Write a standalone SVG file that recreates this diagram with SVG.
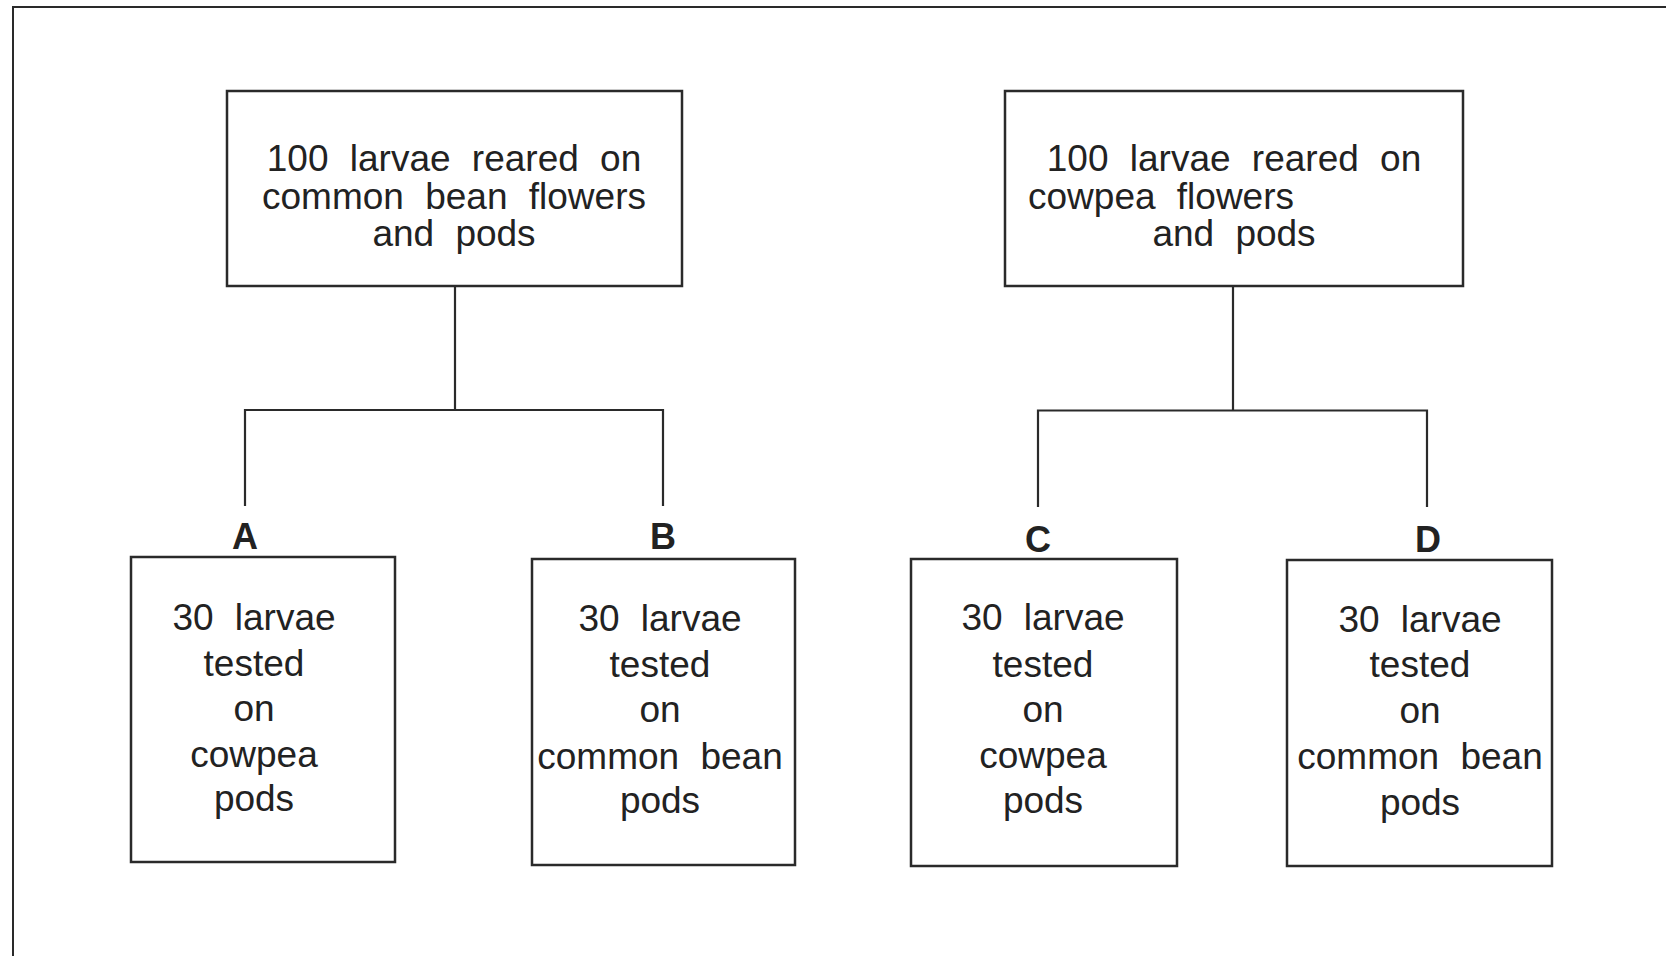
<svg xmlns="http://www.w3.org/2000/svg" width="1666" height="956" viewBox="0 0 1666 956">
<style>
.box{fill:#fff;stroke:#2a2a2a;stroke-width:2.5}
.frame{fill:none;stroke:#2a2a2a;stroke-width:2}
.con{fill:none;stroke:#2a2a2a;stroke-width:2.2}
.t{font-family:"Liberation Sans",Arial,Helvetica,sans-serif;font-size:37px;fill:#222;text-anchor:middle;word-spacing:11px}
.lbl{font-family:"Liberation Sans",Arial,Helvetica,sans-serif;font-size:36px;font-weight:bold;fill:#222;text-anchor:middle}
</style>
<rect width="1666" height="956" fill="#fff"/>
<path class="frame" d="M13,956 V7 H1666"/>
<g id="connectors">
<path class="con" d="M455,286 V410 M245,506 V410 H663 V506"/>
<path class="con" d="M1233,286 V410.5 M1038,507 V410.5 H1427 V507"/>
</g>
<g id="top-left">
<rect class="box" x="227" y="91" width="455" height="195"/>
<text class="t" x="454" y="171">100 larvae reared on</text>
<text class="t" x="454" y="208.5">common bean flowers</text>
<text class="t" x="454" y="246">and pods</text>
</g>
<g id="top-right">
<rect class="box" x="1005" y="91" width="458" height="195"/>
<text class="t" x="1234" y="171">100 larvae reared on</text>
<text class="t" x="1028" y="208.5" style="text-anchor:start">cowpea flowers</text>
<text class="t" x="1234" y="246">and pods</text>
</g>
<g id="A">
<text class="lbl" x="245" y="549">A</text>
<rect class="box" x="131" y="557" width="264" height="305"/>
<text class="t" x="254" y="630">30 larvae</text>
<text class="t" x="254" y="676">tested</text>
<text class="t" x="254" y="721">on</text>
<text class="t" x="254" y="767">cowpea</text>
<text class="t" x="254" y="811">pods</text>
</g>
<g id="B">
<text class="lbl" x="663" y="549">B</text>
<rect class="box" x="532" y="559" width="263" height="306"/>
<text class="t" x="660" y="631">30 larvae</text>
<text class="t" x="660" y="677">tested</text>
<text class="t" x="660" y="722">on</text>
<text class="t" x="660" y="769">common bean</text>
<text class="t" x="660" y="813">pods</text>
</g>
<g id="C">
<text class="lbl" x="1038" y="551.5">C</text>
<rect class="box" x="911" y="559" width="266" height="307"/>
<text class="t" x="1043" y="630">30 larvae</text>
<text class="t" x="1043" y="677">tested</text>
<text class="t" x="1043" y="722">on</text>
<text class="t" x="1043" y="768">cowpea</text>
<text class="t" x="1043" y="813">pods</text>
</g>
<g id="D">
<text class="lbl" x="1428" y="551.5">D</text>
<rect class="box" x="1287" y="560" width="265" height="306"/>
<text class="t" x="1420" y="632">30 larvae</text>
<text class="t" x="1420" y="677">tested</text>
<text class="t" x="1420" y="723">on</text>
<text class="t" x="1420" y="769">common bean</text>
<text class="t" x="1420" y="815">pods</text>
</g>
</svg>
